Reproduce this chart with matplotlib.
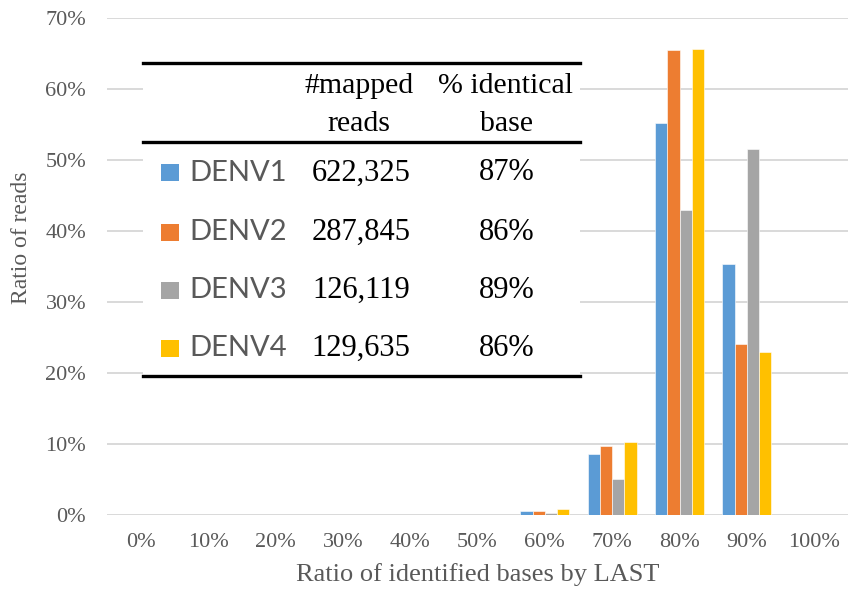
import matplotlib
matplotlib.use("Agg")
import matplotlib.pyplot as plt
import numpy as np
from matplotlib.patches import Rectangle
from matplotlib.lines import Line2D

categories = ["0%", "10%", "20%", "30%", "40%", "50%", "60%", "70%", "80%", "90%", "100%"]
series_names = ["DENV1", "DENV2", "DENV3", "DENV4"]
denv1 = [0, 0, 0, 0, 0, 0, 0.6, 8.6, 55.2, 35.3, 0]
denv2 = [0, 0, 0, 0, 0, 0, 0.5, 9.7, 65.5, 24.1, 0]
denv3 = [0, 0, 0, 0, 0, 0, 0.35, 5.1, 42.9, 51.5, 0]
denv4 = [0, 0, 0, 0, 0, 0, 0.9, 10.3, 65.6, 23.0, 0]
mapped_reads = ["622,325", "287,845", "126,119", "129,635"]
identical_base = ["87%", "86%", "89%", "86%"]
yticks = [0, 10, 20, 30, 40, 50, 60, 70]
ytick_labels = ["0%", "10%", "20%", "30%", "40%", "50%", "60%", "70%"]
colors = ["#5B9BD5", "#ED7D31", "#A5A5A5", "#FFC000"]

W, H = 849, 597
fig = plt.figure(figsize=(W / 100, H / 100), dpi=100)

def fx(x):
    return x / W

def fy(y):
    return 1 - y / H

ax_l, ax_r, ax_t, ax_b = 107, 848, 18, 515
ax = fig.add_axes([fx(ax_l), fy(ax_b), (ax_r - ax_l) / W, (ax_b - ax_t) / H])

x = np.arange(len(categories))
bw = 0.182
all_series = [denv1, denv2, denv3, denv4]
for i, (vals, c) in enumerate(zip(all_series, colors)):
    ax.bar(x + (i - 1.5) * bw, vals, width=bw, color=c, edgecolor="white",
           linewidth=0.4, zorder=3)

ax.set_xlim(-0.5, len(categories) - 0.5)
ax.set_ylim(0, 70)
ax.set_yticks(yticks)
ax.set_yticklabels(ytick_labels)
ax.set_xticks(x)
ax.set_xticklabels(categories)
for s in ax.spines.values():
    s.set_visible(False)
ax.grid(axis="y", color="#D9D9D9", linewidth=1.4, zorder=0)
ax.set_axisbelow(True)
ax.tick_params(length=0, labelsize=16, labelcolor="#595959")
ax.tick_params(axis="x", pad=13)
ax.tick_params(axis="y", pad=15)
for lab in ax.get_xticklabels() + ax.get_yticklabels():
    lab.set_family("Liberation Serif")

fig.text(fx(22), fy(238), "Ratio of reads", rotation=90, ha="center", va="center",
         family="Liberation Serif", fontsize=17, color="#595959")
fig.text(fx(478), fy(575), "Ratio of identified bases by LAST", ha="center", va="center",
         family="Liberation Serif", fontsize=19, color="#595959")

# table overlay
tl, tr = 143, 580
fig.patches.append(Rectangle((fx(tl), fy(378)), (tr - tl) / W, (378 - 62) / H,
                             transform=fig.transFigure, facecolor="white",
                             edgecolor="none", zorder=5))
for yy in [63, 142, 376]:
    fig.lines.append(Line2D([fx(tl), fx(tr)], [fy(yy), fy(yy)], transform=fig.transFigure,
                            color="black", linewidth=2.4, zorder=6))

hdr_kw = dict(ha="center", va="center", family="Liberation Serif", fontsize=21.5,
              color="black", zorder=7)
fig.text(fx(359), fy(86), "#mapped", **hdr_kw)
fig.text(fx(359), fy(124), "reads", **hdr_kw)
fig.text(fx(506), fy(86), "% identical", **hdr_kw)
fig.text(fx(506), fy(124), "base", **hdr_kw)

row_y = [173, 232, 290, 348]
for name, c, mr, ib, yy in zip(series_names, colors, mapped_reads, identical_base, row_y):
    fig.patches.append(Rectangle((fx(161), fy(yy + 8.5)), 18 / W, 17 / H,
                                 transform=fig.transFigure, facecolor=c,
                                 edgecolor="none", zorder=7))
    fig.text(fx(189), fy(yy), name, ha="left", va="center", family="Lato",
             fontsize=21, color="#595959", zorder=7)
    fig.text(fx(361), fy(yy), mr, ha="center", va="center", family="Liberation Serif",
             fontsize=22, color="black", zorder=7)
    fig.text(fx(507), fy(yy), ib, ha="center", va="center", family="Liberation Serif",
             fontsize=22, color="black", zorder=7)

fig.savefig("out.png", dpi=100)
